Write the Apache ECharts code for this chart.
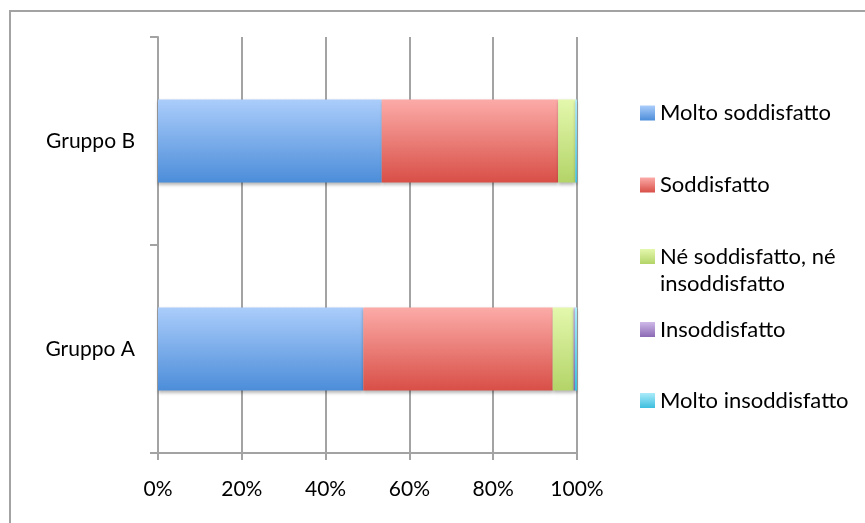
<!DOCTYPE html>
<html>
<head>
<meta charset="utf-8">
<script src="https://cdn.jsdelivr.net/npm/echarts@6/dist/echarts.min.js"></script>
<style>
html,body{margin:0;padding:0;background:#fff;}
#chart{width:865px;height:523px;}
</style>
</head>
<body>
<div id="chart"></div>
<script>
// ---- data ----
const categories = ['Gruppo A', 'Gruppo B'];
const seriesNames = ['Molto soddisfatto', 'Soddisfatto', 'Né soddisfatto, né insoddisfatto', 'Insoddisfatto', 'Molto insoddisfatto'];
const moltoSoddisfatto = [49.0, 53.4];
const soddisfatto = [45.2, 42.1];
const neSoddisfatto = [5.0, 4.1];
const insoddisfatto = [0.3, 0.0];
const moltoInsoddisfatto = [0.5, 0.4];
const xTicks = [0, 20, 40, 60, 80, 100];

const values = [moltoSoddisfatto, soddisfatto, neSoddisfatto, insoddisfatto, moltoInsoddisfatto];
const gradStops = [
  ['#abcdfb', '#4c8dd9'],
  ['#fcaba8', '#d84f47'],
  ['#e4f8ad', '#b3d468'],
  ['#cfb9e8', '#8b69b4'],
  ['#abebfa', '#3dbede']
];
function grad(c) {
  return new echarts.graphic.LinearGradient(0, 0, 0, 1, [
    {offset: 0, color: c[0]}, {offset: 1, color: c[1]}
  ]);
}

const FONT = 'Lato';
const legendTops = [99.5, 171.5, 216, 316, 387];
const legends = seriesNames.map((n, i) => ({
  data: [n],
  left: 640,
  top: legendTops[i],
  padding: 0,
  itemWidth: 15,
  itemHeight: 15,
  itemGap: 0,
  selectedMode: false,
  icon: 'rect',
  formatter: i === 2 ? ' \nNé soddisfatto, né\ninsoddisfatto' : '{name}',
  textStyle: {fontFamily: FONT, fontSize: 22, color: '#000', lineHeight: 27}
}));

const series = seriesNames.map((n, i) => ({
  name: n,
  type: 'bar',
  stack: 'total',
  barCategoryGap: '60%',
  data: values[i],
  itemStyle: {
    color: grad(gradStops[i]),
    shadowColor: 'rgba(0,0,0,0.28)',
    shadowBlur: 3,
    shadowOffsetY: 2
  },
  emphasis: {disabled: true}
}));

const chart = echarts.init(document.getElementById('chart'), null, {renderer: 'canvas'});
chart.setOption({
  animation: false,
  backgroundColor: '#fff',
  graphic: [{
    type: 'rect',
    shape: {x: 10, y: 11, width: 900, height: 600},
    style: {fill: 'none', stroke: '#a3a3a3', lineWidth: 2},
    silent: true,
    z: -10
  }],
  grid: {left: 158, right: 288, top: 37, bottom: 70, containLabel: false},
  legend: legends,
  xAxis: {
    type: 'value',
    min: xTicks[0],
    max: xTicks[xTicks.length - 1],
    interval: 20,
    axisLine: {show: true, lineStyle: {color: '#a3a3a3', width: 2}},
    axisTick: {show: true, length: 7, lineStyle: {color: '#a3a3a3', width: 2}},
    splitLine: {show: true, lineStyle: {color: '#a3a3a3', width: 2}},
    axisLabel: {formatter: '{value}%', fontFamily: FONT, fontSize: 21, color: '#000', margin: 26}
  },
  yAxis: {
    type: 'category',
    data: categories,
    axisLine: {show: true, lineStyle: {color: '#a3a3a3', width: 2}},
    axisTick: {show: true, length: 8, alignWithLabel: false, lineStyle: {color: '#a3a3a3', width: 2}},
    axisLabel: {fontFamily: FONT, fontSize: 21, color: '#000', margin: 23}
  },
  series: series
});
</script>
</body>
</html>
